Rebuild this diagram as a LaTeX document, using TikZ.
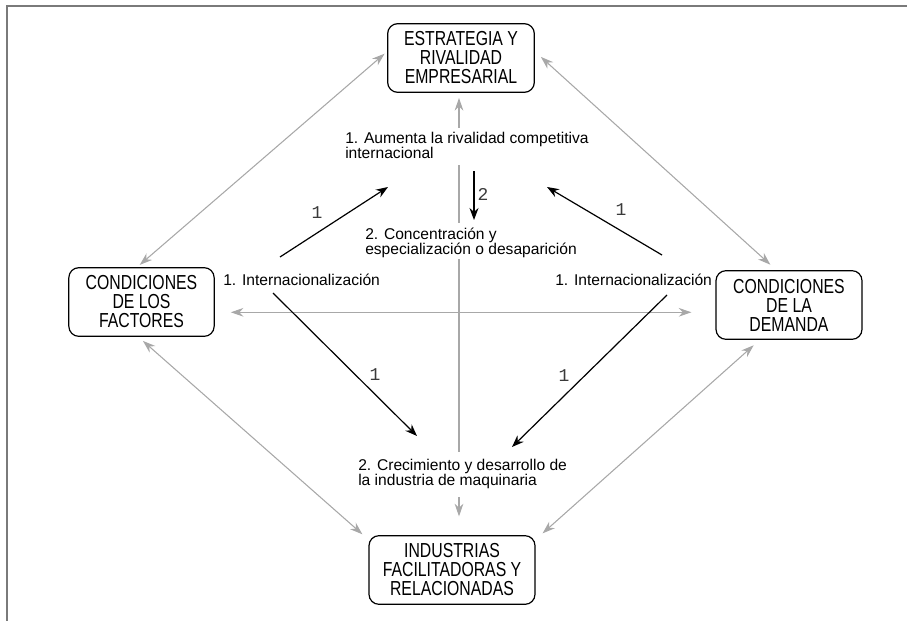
\documentclass[tikz,border=0pt]{standalone}
\usepackage{fontspec}
\setmainfont{Liberation Sans}
\newfontfamily\cajafont[FakeStretch=0.78]{Liberation Sans}
\newfontfamily\numfont{Liberation Mono}
\usetikzlibrary{arrows.meta}

\definecolor{grisclaro}{HTML}{A8A8A8}
\definecolor{grismarco}{HTML}{7A7A7A}
\definecolor{grisnum}{HTML}{3A3A3A}

\tikzset{
  caja/.style={draw, rounded corners=7.5pt, line width=0.9pt, align=center,
    inner sep=0pt, minimum height=51.5pt,
    font=\cajafont\fontsize{15.2}{14.25}\selectfont},
  etiqueta/.style={anchor=west, align=left, inner sep=0pt,
    font=\fontsize{11.7}{11.25}\selectfont},
  numero/.style={inner sep=0pt, text=grisnum, font=\numfont\fontsize{13.5}{14}\selectfont},
  relacion/.style={grisclaro, line width=0.8pt,
    {Stealth[length=9.5pt,width=6.5pt]}-{Stealth[length=9.5pt,width=6.5pt]}},
  flecha/.style={line width=0.9pt, -{Stealth[length=9pt,width=6.75pt]}},
  flechagris/.style={grisclaro, line width=0.8pt, -{Stealth[length=9.5pt,width=6.5pt]}},
  linea/.style={grisclaro, line width=0.8pt}
}

\begin{document}
\begin{tikzpicture}[x=0.75pt, y=-0.75pt]

    \useasboundingbox (0,0) rectangle (907,621);

    % Marco
    \draw[grismarco, line width=1.5pt] (7,621) -- (7,6) -- (907,6);

    % Los cuatro vertices del diamante
    \node[caja, minimum width=110pt] (estr) at (461,58) {ESTRATEGIA Y\\RIVALIDAD\\EMPRESARIAL};
    \node[caja, minimum width=109pt] (fact) at (141.5,302) {CONDICIONES\\DE LOS\\FACTORES};
    \node[caja, minimum width=109.5pt] (dem) at (789,305) {CONDICIONES\\DE LA\\DEMANDA};
    \node[caja, minimum width=124.5pt] (ind) at (452,570) {INDUSTRIAS\\FACILITADORAS Y\\RELACIONADAS};

    % Textos intermedios
    \node[etiqueta] (aum) at (345,145) {1. Aumenta la rivalidad competitiva\\internacional};
    \node[etiqueta] (conc) at (365,243) {2. Concentración y\\especialización o desaparición};
    \node[etiqueta] (intI) at (223,280) {1. Internacionalización};
    \node[etiqueta] (intD) at (555,280) {1. Internacionalización};
    \node[etiqueta] (crec) at (358,474) {2. Crecimiento y desarrollo de\\la industria de maquinaria};

    % Relaciones entre vertices
    \draw[relacion, shorten <=2.5pt, shorten >=2.5pt] (estr.175) -- (fact.97);
    \draw[relacion, shorten <=6pt, shorten >=6pt] (estr.5) -- (dem.110);
    \draw[relacion, shorten <=4.5pt, shorten >=6pt] (fact.265) -- (ind.160);
    \draw[relacion, shorten <=6pt, shorten >=7pt] (dem.230) -- (ind.20);
    \draw[relacion, shorten <=12pt, shorten >=18pt] (fact.-8) -- (fact.-8 -| dem.west);

    % Eje central
    \coordinate (eje) at (459,0);
    \draw[flechagris, shorten <=3pt, shorten >=3.75pt] (aum.north -| eje) -- (estr.south -| eje);
    \draw[linea, shorten <=5pt, shorten >=4pt] (aum.south -| eje) -- (conc.north -| eje);
    \draw[linea, shorten <=1pt, shorten >=5pt] (conc.south -| eje) -- (crec.north -| eje);
    \draw[flechagris, shorten <=6pt, shorten >=14pt] (crec.south -| eje) -- (ind.north -| eje);

    % Flechas de internacionalizacion
    \coordinate (salI) at (280,257);
    \coordinate (llegI) at (388,187);
    \coordinate (salD) at (662,255);
    \coordinate (llegD) at (547,187);
    \coordinate (bajaI) at (273,293);
    \coordinate (finI) at (417,436);
    \coordinate (bajaD) at (667,295);
    \coordinate (finD) at (512,447);
    \coordinate (conA) at (474,171);
    \coordinate (conB) at (474,220);

    \draw[flecha] (salI) -- (llegI);
    \draw[flecha] (salD) -- (llegD);
    \draw[flecha] (bajaI) -- (finI);
    \draw[flecha] (bajaD) -- (finD);
    \draw[flecha] (conA) -- (conB);

    % Numeros de las flechas
    \node[numero] (n1) at (317,213) {1};
    \node[numero] (n2) at (621,210) {1};
    \node[numero] (n3) at (483,194) {2};
    \node[numero] (n4) at (375,375) {1};
    \node[numero] (n5) at (564,376) {1};

\end{tikzpicture}
\end{document}
